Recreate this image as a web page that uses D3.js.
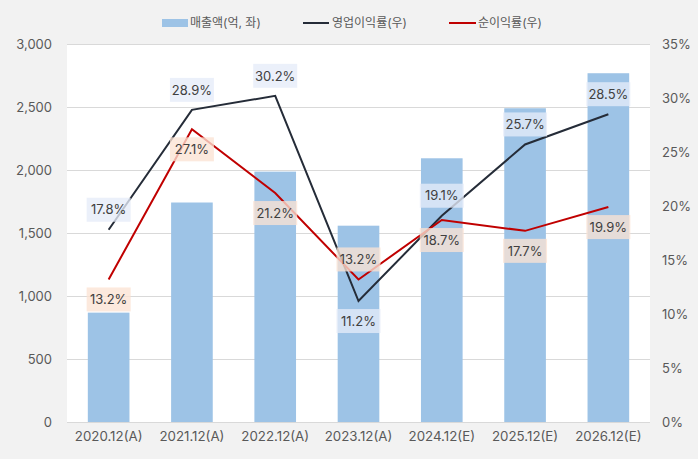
<!DOCTYPE html>
<html><head><meta charset="utf-8">
<script src="https://cdn.jsdelivr.net/npm/d3@7"></script>
<style>body{margin:0;background:#F2F2F2;font-family:Inter,"Noto Sans CJK KR",sans-serif;}</style>
</head><body><svg id="c" width="698" height="459"></svg>
<script>
const categories = ["2020.12(A)","2021.12(A)","2022.12(A)","2023.12(A)","2024.12(E)","2025.12(E)","2026.12(E)"];
const sales = [868, 1742, 1987, 1558, 2093, 2490, 2768];
const opMargin = [17.8, 28.9, 30.2, 11.2, 19.1, 25.7, 28.5];
const netMargin = [13.2, 27.1, 21.2, 13.2, 18.7, 17.7, 19.9];
const opLabelPos = ["above","above","above","below","above","above","above"];
const netLabelPos = ["below","below","below","above","below","below","below"];
const leftTicks = [0,500,1000,1500,2000,2500,3000];
const rightTicks = [0,5,10,15,20,25,30,35];
const legendLabels = ["매출액(억, 좌)","영업이익률(우)","순이익률(우)"];

const svg = d3.select("#c");
const L = 67, R = 650, T = 44, B = 422;
const font = 'Inter,"Noto Sans CJK KR",sans-serif';
svg.append("rect").attr("x",0).attr("y",0).attr("width",698).attr("height",459).attr("fill","#F2F2F2");
svg.append("rect").attr("x",L).attr("y",T).attr("width",R-L).attr("height",B-T).attr("fill","#FFFFFF");

const x = d3.scaleBand().domain(categories).range([L,R]).paddingInner(0.5).paddingOuter(0.25);
const yL = d3.scaleLinear().domain([0,3000]).range([B,T]);
const yR = d3.scaleLinear().domain([0,35]).range([B,T]);

svg.append("g").selectAll("line").data(leftTicks).join("line")
  .attr("x1",L).attr("x2",R).attr("y1",d=>yL(d)).attr("y2",d=>yL(d))
  .attr("stroke","#D9D9D9").attr("stroke-width",1).attr("shape-rendering","crispEdges");

const gl = svg.append("g").attr("transform",`translate(${L},0)`)
  .call(d3.axisLeft(yL).tickValues(leftTicks).tickSize(0).tickPadding(15).tickFormat(d3.format(",")));
gl.select(".domain").remove();
gl.selectAll("text").attr("fill","#595959").attr("font-size",13).attr("font-family",font);

const gr = svg.append("g").attr("transform",`translate(${R},0)`)
  .call(d3.axisRight(yR).tickValues(rightTicks).tickSize(0).tickPadding(12).tickFormat(d=>d+"%"));
gr.select(".domain").remove();
gr.selectAll("text").attr("fill","#595959").attr("font-size",13).attr("font-family",font);

const gx = svg.append("g").attr("transform",`translate(0,${B})`)
  .call(d3.axisBottom(x).tickSize(0).tickPadding(10));
gx.select(".domain").remove();
gx.selectAll("text").attr("fill","#595959").attr("font-size",13.3).attr("font-family",font);

svg.append("g").selectAll("rect").data(sales).join("rect")
  .attr("x",(d,i)=>x(categories[i])).attr("width",x.bandwidth())
  .attr("y",d=>yL(d)).attr("height",d=>B-yL(d)).attr("fill","#9DC3E6");

const cx = i => x(categories[i]) + x.bandwidth()/2;
svg.append("path").datum(opMargin).attr("d",d3.line().x((d,i)=>cx(i)).y(d=>yR(d)))
  .attr("fill","none").attr("stroke","#252C38").attr("stroke-width",2);
svg.append("path").datum(netMargin).attr("d",d3.line().x((d,i)=>cx(i)).y(d=>yR(d)))
  .attr("fill","none").attr("stroke","#C00000").attr("stroke-width",2);

function labels(data, pos, fill){
  const g = svg.append("g");
  data.forEach((v,i)=>{
    const cy = yR(v) + (pos[i]==="above" ? -20 : 20);
    const w = 44, h = 24;
    g.append("rect").attr("x",cx(i)-w/2).attr("y",cy-h/2).attr("width",w).attr("height",h)
      .attr("fill",fill).attr("opacity",0.78);
    g.append("text").attr("x",cx(i)).attr("y",cy).attr("dy","0.36em").attr("text-anchor","middle")
      .attr("font-size",13).attr("font-family",font).attr("fill","#404040").text(v.toFixed(1)+"%");
  });
}
labels(opMargin, opLabelPos, "#E6ECF8");
labels(netMargin, netLabelPos, "#FBE3D4");

const lg = svg.append("g");
lg.append("rect").attr("x",162).attr("y",19).attr("width",26).attr("height",8).attr("fill","#9DC3E6");
lg.append("text").attr("x",190).attr("y",23).attr("dy","0.36em").text(legendLabels[0]);
lg.append("line").attr("x1",303).attr("x2",329).attr("y1",23).attr("y2",23).attr("stroke","#252C38").attr("stroke-width",2);
lg.append("text").attr("x",332).attr("y",23).attr("dy","0.36em").text(legendLabels[1]);
lg.append("line").attr("x1",449).attr("x2",476).attr("y1",23).attr("y2",23).attr("stroke","#C00000").attr("stroke-width",2);
lg.append("text").attr("x",478).attr("y",23).attr("dy","0.36em").text(legendLabels[2]);
lg.selectAll("text").attr("font-size",12).attr("font-family",font).attr("fill","#595959");
</script></body></html>
